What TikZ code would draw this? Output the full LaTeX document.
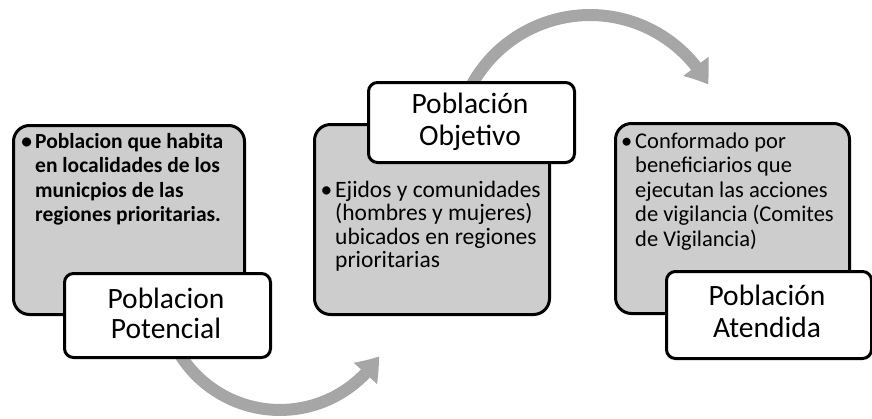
\documentclass[tikz,border=0pt]{standalone}
\usepackage{fontspec}
\setmainfont{Carlito}
\usetikzlibrary{arrows.meta,bending}
\definecolor{boxgrey}{RGB}{205,205,205}
\definecolor{arrowgrey}{RGB}{166,166,166}
\tikzset{
  greybox/.style={draw=black, line width=3pt, fill=boxgrey, rounded corners=16pt, inner sep=0pt, anchor=north west},
  lblbox/.style={draw=black, line width=3pt, fill=white, rounded corners=9pt, inner sep=0pt, anchor=north west},
  bodytext/.style={inner sep=0pt, anchor=base west},
  lbltext/.style={inner sep=0pt, anchor=base, font=\fontsize{29.5}{31.5}\selectfont},
  flow/.style={draw=arrowgrey, line width=12pt, -{Triangle[width=30pt,length=22pt,bend]}}
}
\newcommand{\blt}{\leavevmode\llap{•\hspace{3pt}}}
\begin{document}
\begin{tikzpicture}[x=1pt,y=-1pt]
\useasboundingbox (0,0) rectangle (872,418);
% circular arrows (behind the boxes)
\draw[flow] (179.9,354.5) arc[start angle=148, end angle=33, radius=118];
\draw[flow] (471.9,84.6) arc[start angle=-151, end angle=-29, radius=135];
% box 1
\node[greybox, minimum width=231pt, minimum height=189pt] (g1) at (12,124) {};
\node[bodytext, font=\fontsize{21.5}{24.6}\selectfont\bfseries] (t1) at (35,148) {\parbox[t]{215pt}{\raggedright
\blt Poblacion que habita\\
en localidades de los\\
municpios de las\\
regiones prioritarias.}};
\node[lblbox, minimum width=206pt, minimum height=84pt] (l1) at (63,272) {};
\node[lbltext, font=\fontsize{29.5}{30}\selectfont] (l1t) at (166,308) {\parbox[t]{200pt}{\centering Poblacion\\Potencial}};
% box 2
\node[greybox, minimum width=235pt, minimum height=190pt] (g2) at (313,123) {};
\node[bodytext, font=\fontsize{23.5}{23.5}\selectfont] (t2) at (335,197) {\parbox[t]{215pt}{\raggedright
\blt Ejidos y comunidades\\
(hombres y mujeres)\\
ubicados en regiones\\
prioritarias}};
\node[lblbox, minimum width=206pt, minimum height=80pt] (l2) at (367,81) {};
\node[lbltext, font=\fontsize{29.5}{32}\selectfont] (l2t) at (470,113) {\parbox[t]{200pt}{\centering Población\\Objetivo}};
% box 3
\node[greybox, minimum width=234pt, minimum height=190pt] (g3) at (614,122) {};
\node[bodytext, font=\fontsize{22.5}{24.5}\selectfont] (t3) at (635,148) {\parbox[t]{215pt}{\raggedright
\blt Conformado por\\
beneficiarios que\\
ejecutan las acciones\\
de vigilancia (Comites\\
de Vigilancia)}};
\node[lblbox, minimum width=205pt, minimum height=87pt] (l3) at (665,270) {};
\node[lbltext, font=\fontsize{29.5}{32}\selectfont] (l3t) at (767,305) {\parbox[t]{200pt}{\centering Población\\Atendida}};
\end{tikzpicture}
\end{document}
